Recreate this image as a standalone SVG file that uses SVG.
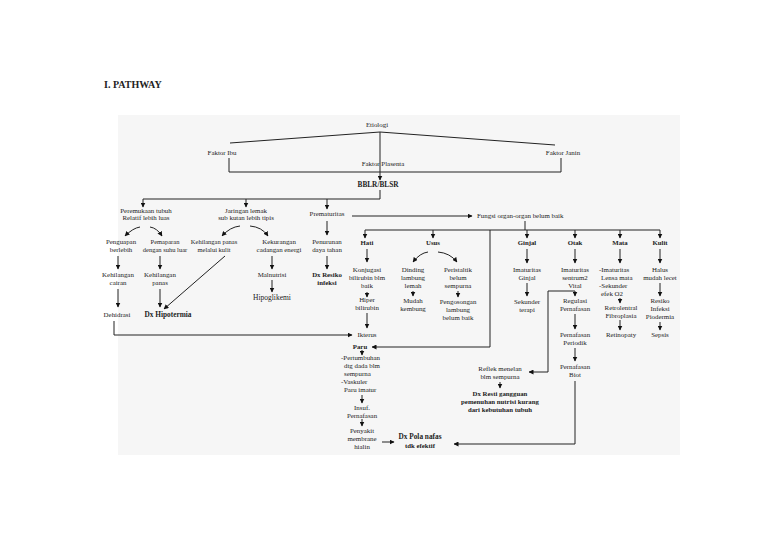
<svg xmlns="http://www.w3.org/2000/svg" width="768" height="543" viewBox="0 0 768 543">
<defs><marker id="a" viewBox="0 0 10 10" refX="9" refY="5" markerWidth="5" markerHeight="5" orient="auto"><path d="M0,0L10,5L0,10z" fill="#111"/></marker></defs>
<style>
text{font-family:"Liberation Serif",serif;font-size:6.9px;fill:#222;text-anchor:middle}
.b{font-weight:bold;font-size:7.3px}
.l{text-anchor:start}
line,polyline,path.c{stroke:#222;stroke-width:1;fill:none}
.ar{marker-end:url(#a)}
</style>
<rect width="768" height="543" fill="#fff"/>
<rect x="118" y="115" width="562" height="340" fill="#f6f6f6"/>
<text x="104" y="88" class="l" style="font-size:10px;font-weight:bold">I. PATHWAY</text>
<g id="connectors">
<polyline points="230,143 380,132 555,145"/>
<line x1="380" y1="132" x2="380" y2="180" class="ar"/>
<polyline points="229,158 229,172 561,172 561,158"/>
<line x1="380" y1="190" x2="380" y2="199"/>
<line x1="143" y1="199" x2="380" y2="199"/>
<line x1="143" y1="199" x2="143" y2="207" class="ar"/>
<line x1="246" y1="199" x2="246" y2="207" class="ar"/>
<line x1="327" y1="199" x2="327" y2="209" class="ar"/>
<line x1="352" y1="216" x2="472" y2="216" class="ar"/>
<path class="c ar" d="M140,227 Q133,228 125,236"/>
<path class="c ar" d="M150,227 Q157,228 162,236"/>
<path class="c ar" d="M240,226 Q230,227 222,236"/>
<path class="c ar" d="M250,226 Q262,227 268,236"/>
<line x1="327" y1="221" x2="327" y2="235" class="ar"/>
<line x1="118" y1="256" x2="118" y2="269" class="ar"/>
<line x1="160" y1="256" x2="160" y2="269" class="ar"/>
<line x1="118" y1="289" x2="118" y2="307" class="ar"/>
<line x1="160" y1="289" x2="160" y2="307" class="ar"/>
<line x1="225" y1="256" x2="164" y2="309" class="ar"/>
<line x1="272" y1="256" x2="272" y2="269" class="ar"/>
<line x1="272" y1="280" x2="272" y2="292" class="ar"/>
<line x1="327" y1="256" x2="327" y2="269" class="ar"/>
<polyline points="114,321 114,335 352,335" class="ar"/>
<line x1="525" y1="221" x2="525" y2="230"/>
<line x1="365" y1="230" x2="660" y2="230"/>
<line x1="365" y1="230" x2="365" y2="238" class="ar"/>
<line x1="433" y1="230" x2="433" y2="238" class="ar"/>
<line x1="527" y1="230" x2="527" y2="238" class="ar"/>
<line x1="575" y1="230" x2="575" y2="238" class="ar"/>
<line x1="620" y1="230" x2="620" y2="238" class="ar"/>
<line x1="660" y1="230" x2="660" y2="238" class="ar"/>
<polyline points="490,230 490,347 372,347" class="ar"/>
<line x1="367" y1="249" x2="367" y2="262" class="ar"/>
<line x1="367" y1="292" x2="367" y2="297" class="ar"/>
<line x1="367" y1="313" x2="367" y2="328" class="ar"/>
<path class="c ar" d="M428,252 Q420,253 413,262"/>
<path class="c ar" d="M438,252 Q450,253 457,262"/>
<line x1="413" y1="291" x2="413" y2="296" class="ar"/>
<line x1="458" y1="291" x2="458" y2="297" class="ar"/>
<line x1="527" y1="249" x2="527" y2="263" class="ar"/>
<line x1="527" y1="283" x2="527" y2="296" class="ar"/>
<line x1="575" y1="249" x2="575" y2="263" class="ar"/>
<polyline points="548,372 548,291 575,291 575,296" class="ar"/>
<line x1="548" y1="372" x2="529" y2="372" class="ar"/>
<line x1="575" y1="314" x2="575" y2="329" class="ar"/>
<line x1="575" y1="348" x2="575" y2="361" class="ar"/>
<polyline points="575,381 575,444 454,444" class="ar"/>
<line x1="500" y1="382" x2="500" y2="388" class="ar"/>
<line x1="620" y1="249" x2="620" y2="263" class="ar"/>
<line x1="620" y1="298" x2="620" y2="303" class="ar"/>
<line x1="620" y1="320" x2="620" y2="330" class="ar"/>
<line x1="660" y1="249" x2="660" y2="263" class="ar"/>
<line x1="660" y1="283" x2="660" y2="296" class="ar"/>
<line x1="660" y1="322" x2="660" y2="330" class="ar"/>
<line x1="362" y1="350" x2="362" y2="355" class="ar"/>
<line x1="362" y1="395" x2="362" y2="403" class="ar"/>
<line x1="362" y1="419" x2="362" y2="426" class="ar"/>
<line x1="382" y1="442" x2="394" y2="442" class="ar"/>
</g>
<g id="n-etiologi"><text x="377" y="127">Etiologi</text></g>
<g id="n-ibu"><text x="222" y="155">Faktor Ibu</text></g>
<g id="n-janin"><text x="563" y="155">Faktor Janin</text></g>
<g id="n-plasenta"><text x="383" y="166">Faktor  Plasenta</text></g>
<g id="n-bblr"><text x="378" y="187" class="b">BBLR/BLSR</text></g>
<g id="n-permukaan"><text x="146" y="213">Peremukaan tubuh</text><text x="146" y="220">Relatif lebih luas</text></g>
<g id="n-jaringan"><text x="246" y="213">Jaringan lemak</text><text x="246" y="220">sub kutan lebih tipis</text></g>
<g id="n-prematuritas"><text x="327" y="216">Prematuritas</text></g>
<g id="n-fungsi"><text x="477" y="218" class="l">Fungsi organ-organ belum baik</text></g>
<g id="n-penguapan"><text x="121" y="244">Penguapan</text><text x="121" y="252">berlebih</text></g>
<g id="n-pemaparan"><text x="165" y="244" style="font-size:6.5px">Pemaparan</text><text x="165" y="252" style="font-size:6.5px">dengan suhu luar</text></g>
<g id="n-kehkulit"><text x="214" y="244" style="font-size:6.5px">Kehilangan panas</text><text x="214" y="252" style="font-size:6.5px">melalui kulit</text></g>
<g id="n-kehcairan"><text x="118" y="277">Kehilangan</text><text x="118" y="285">cairan</text></g>
<g id="n-kehpanas"><text x="160" y="277">Kehilangan</text><text x="160" y="285">panas</text></g>
<g id="n-dehidrasi"><text x="117" y="317">Dehidrasi</text></g>
<g id="n-hipotermia"><text x="168" y="317" class="b">Dx Hipotermia</text></g>
<g id="n-kekurangan"><text x="279" y="244">Kekurangan</text><text x="279" y="252">cadangan energi</text></g>
<g id="n-malnutrisi"><text x="272" y="277">Malnutrisi</text></g>
<g id="n-hipoglikemi"><text x="272" y="300" style="font-size:7.5px">Hipoglikemi</text></g>
<g id="n-penurunan"><text x="327" y="244">Penurunan</text><text x="327" y="252">daya tahan</text></g>
<g id="n-resinfeksi"><text x="327" y="277" class="b" style="font-size:6.8px">Dx Resiko</text><text x="327" y="285" class="b" style="font-size:6.8px">infeksi</text></g>
<g id="n-hati"><text x="367" y="245" class="b" style="font-size:6.8px">Hati</text></g>
<g id="n-konjugasi"><text x="367" y="272">Konjugasi</text><text x="367" y="280">bilirubin blm</text><text x="367" y="288">baik</text></g>
<g id="n-hiperbil"><text x="367" y="302">Hiper</text><text x="367" y="310">bilirubin</text></g>
<g id="n-ikterus"><text x="367" y="337">Ikterus</text></g>
<g id="n-usus"><text x="433" y="245" class="b" style="font-size:6.8px">Usus</text></g>
<g id="n-dinding"><text x="413" y="272">Dinding</text><text x="413" y="280">lambung</text><text x="413" y="288">lemah</text></g>
<g id="n-peristaltik"><text x="458" y="272">Peristaltik</text><text x="458" y="280">belum</text><text x="458" y="288">sempurna</text></g>
<g id="n-kembung"><text x="413" y="303">Mudah</text><text x="413" y="311">kembung</text></g>
<g id="n-pengosongan"><text x="458" y="304">Pengosongan</text><text x="458" y="312">lambung</text><text x="458" y="320">belum baik</text></g>
<g id="n-ginjal"><text x="527" y="245" class="b" style="font-size:6.8px">Ginjal</text></g>
<g id="n-imginjal"><text x="527" y="272">Imaturitas</text><text x="527" y="280">Ginjal</text></g>
<g id="n-sekunder"><text x="527" y="304">Sekunder</text><text x="527" y="312">terapi</text></g>
<g id="n-otak"><text x="575" y="245" class="b" style="font-size:6.8px">Otak</text></g>
<g id="n-imotak"><text x="575" y="272">Imaturitas</text><text x="575" y="280">sentrum2</text><text x="575" y="288">Vital</text></g>
<g id="n-regulasi"><text x="575" y="303">Regulasi</text><text x="575" y="311">Pernafasan</text></g>
<g id="n-periodik"><text x="575" y="337">Pernafasan</text><text x="575" y="345">Periodik</text></g>
<g id="n-biot"><text x="575" y="369">Pernafasan</text><text x="575" y="377">Biot</text></g>
<g id="n-mata"><text x="620" y="245" class="b" style="font-size:6.8px">Mata</text></g>
<g id="n-immata"><text x="599" y="272" class="l">-Imaturitas</text><text x="601" y="280" class="l">Lensa mata</text><text x="599" y="288" class="l">-Sekunder</text><text x="601" y="296" class="l">efek O2</text></g>
<g id="n-retrolental"><text x="621" y="310">Retrolentral</text><text x="621" y="318">Fibroplasia</text></g>
<g id="n-retinopaty"><text x="621" y="337">Retinopaty</text></g>
<g id="n-kulit"><text x="660" y="245" class="b" style="font-size:6.8px">Kulit</text></g>
<g id="n-halus"><text x="660" y="272">Halus</text><text x="660" y="280">mudah lecet</text></g>
<g id="n-piodermia"><text x="660" y="303">Resiko</text><text x="660" y="311">Infeksi</text><text x="660" y="319">Piodermia</text></g>
<g id="n-sepsis"><text x="660" y="337">Sepsis</text></g>
<g id="n-paru"><text x="360" y="349" class="b" style="font-size:6.8px">Paru</text></g>
<g id="n-pertumbuhan"><text x="341" y="360" class="l">-Pertumbuhan</text><text x="344" y="368" class="l">dtg dada blm</text><text x="344" y="376" class="l">sempurna</text><text x="341" y="384" class="l">-Vaskuler</text><text x="344" y="392" class="l">Paru imatur</text></g>
<g id="n-insuf"><text x="362" y="410">Insuf.</text><text x="362" y="418">Pernafasan</text></g>
<g id="n-hialin"><text x="362" y="433">Penyakit</text><text x="362" y="441">membrane</text><text x="362" y="449">hialin</text></g>
<g id="n-reflek"><text x="500" y="371">Reflek menelan</text><text x="500" y="379">blm sempurna</text></g>
<g id="n-resti"><text x="500" y="396" class="b" style="font-size:6.8px">Dx Resti gangguan</text><text x="500" y="404" class="b" style="font-size:6.8px">pemenuhan nutrisi kurang</text><text x="500" y="412" class="b" style="font-size:6.8px">dari kebutuhan tubuh</text></g>
<g id="n-polanafas"><text x="420" y="439" class="b">Dx Pola nafas</text><text x="420" y="448" class="b" style="font-size:6.8px">tdk efektif</text></g>
</svg>
